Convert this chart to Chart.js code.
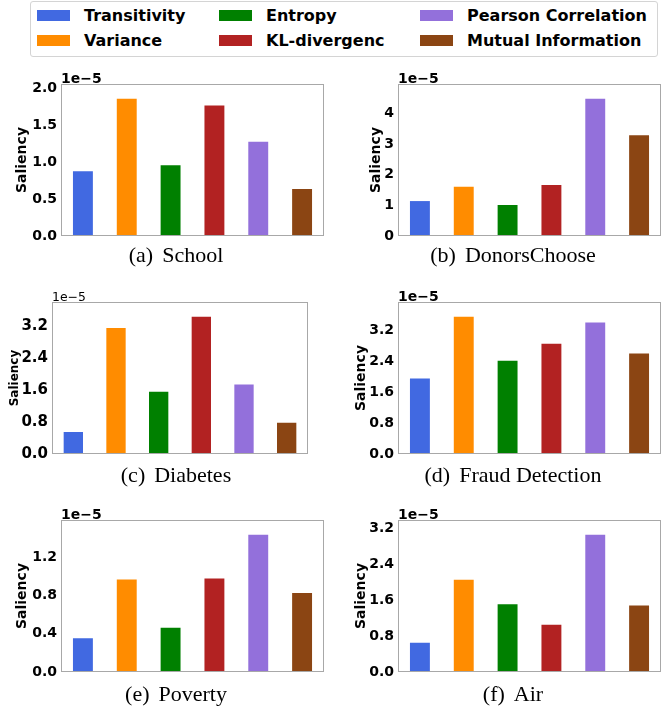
<!DOCTYPE html>
<html>
<head>
<meta charset="utf-8">
<script src="https://cdn.jsdelivr.net/npm/chart.js@4.4.1/dist/chart.umd.min.js"></script>
<style>
  body { margin: 0; background: #fff; }
  #page { position: relative; width: 671px; height: 708px; overflow: hidden; }
  canvas { position: absolute; }
  #legend {
    position: absolute; left: 30px; top: 1px; width: 626px; height: 54px;
    border: 1px solid #d4d4d4; border-radius: 3px;
  }
  .item { position: absolute; font: bold 16px "DejaVu Sans"; color: #000; white-space: nowrap; line-height: 20px; }
  .swatch { position: absolute; width: 33px; height: 11px; }
  .sub { position: absolute; width: 300px; text-align: center; font: 22px "Liberation Serif"; line-height: 22px; color: #000; white-space: nowrap; }
  .sub span { margin-right: 9px; }
</style>
</head>
<body>
<div id="page">
  <div id="legend"></div>
</div>
<script>
// values are in units of 1e-5
const methods = ["Transitivity", "Variance", "Entropy", "KL-divergenc", "Pearson Correlation", "Mutual Information"];
const colors = ["#4169E1", "#FF8C00", "#008000", "#B22222", "#9370DB", "#8B4513"];

const school = [0.89, 1.87, 0.97, 1.78, 1.29, 0.65];
const donorsChoose = [1.17, 1.64, 1.04, 1.69, 4.50, 3.31];
const diabetes = [0.58, 3.19, 1.59, 3.47, 1.77, 0.81];
const fraud = [1.98, 3.58, 2.44, 2.88, 3.43, 2.63];
const poverty = [0.365, 0.98, 0.473, 0.99, 1.447, 0.838];
const air = [0.675, 2.085, 1.537, 1.08, 3.087, 1.51];

const subtitles = ["(a)|School", "(b)|DonorsChoose", "(c)|Diabetes", "(d)|Fraud Detection", "(e)|Poverty", "(f)|Air"];
const tickSteps = [0.5, 1, 0.8, 0.8, 0.4, 0.8];
const tickDecimals = [1, 0, 1, 1, 1, 1];

const page = document.getElementById("page");

// legend, 3 columns x 2 rows
const legend = document.getElementById("legend");
const colX = [6, 188, 389];
const rowY = [8, 33];
methods.forEach((m, i) => {
    const col = Math.floor(i / 2), row = i % 2;
    const sw = document.createElement("div");
    sw.className = "swatch";
    sw.style.left = colX[col] + "px";
    sw.style.top = rowY[row] + "px";
    sw.style.background = colors[i];
    legend.appendChild(sw);
    const t = document.createElement("div");
    t.className = "item";
    t.textContent = m;
    t.style.left = (colX[col] + 47) + "px";
    t.style.top = (rowY[row] - 4) + "px";
    legend.appendChild(t);
});

// draws the box around the plot area and the 1e-5 offset text
const framePlugin = {
    id: "frame",
    afterDraw(chart, args, opts) {
        const {ctx, chartArea} = chart;
        ctx.save();
        ctx.strokeStyle = "#a8a8a8";
        ctx.lineWidth = 1;
        ctx.strokeRect(chartArea.left + 0.5, chartArea.top + 0.5,
            chartArea.right - chartArea.left - 1, chartArea.bottom - chartArea.top - 1);
        ctx.fillStyle = "#000";
        ctx.font = opts.font;
        ctx.textBaseline = "alphabetic";
        ctx.fillText("1e\u22125", chartArea.left, chartArea.top - 1);
        ctx.restore();
    }
};

const panels = [
    {data: school, x: 0, y: 60, w: 335, pad: {top: 24, bottom: 14, right: 11}, axisW: 61, tPad: 13.6, tSize: 14, off: "bold 14px 'DejaVu Sans'"},
    {data: donorsChoose, x: 335, y: 60, w: 336, pad: {top: 24, bottom: 14, right: 10}, axisW: 63, tPad: 33.3, tSize: 14, off: "bold 14px 'DejaVu Sans'"},
    {data: diabetes, x: 0, y: 280, w: 335, pad: {top: 22, bottom: 16, right: 27}, axisW: 52, tPad: 7.8, tSize: 12, off: "12.4px 'DejaVu Sans'"},
    {data: fraud, x: 335, y: 280, w: 336, pad: {top: 22, bottom: 16, right: 10}, axisW: 63, tPad: 17.6, tSize: 14, off: "bold 14px 'DejaVu Sans'"},
    {data: poverty, x: 0, y: 500, w: 335, pad: {top: 20, bottom: 18, right: 11}, axisW: 61, tPad: 13.6, tSize: 14, off: "bold 14px 'DejaVu Sans'"},
    {data: air, x: 335, y: 500, w: 336, pad: {top: 20, bottom: 18, right: 10}, axisW: 63, tPad: 17.6, tSize: 14, off: "bold 14px 'DejaVu Sans'"},
];
const subCenters = [176, 513];
const subTops = [244, 464, 683];

panels.forEach((p, i) => {
    const cv = document.createElement("canvas");
    cv.width = p.w;
    cv.height = 190;
    cv.style.left = p.x + "px";
    cv.style.top = p.y + "px";
    page.appendChild(cv);

    const step = tickSteps[i], dec = tickDecimals[i];
    new Chart(cv, {
        type: "bar",
        data: {
            labels: methods,
            datasets: [{
                data: p.data,
                backgroundColor: colors,
                borderColor: "rgba(255,255,255,0.45)",
                borderWidth: 1,
                borderSkipped: "start",
                barPercentage: 0.5,
                categoryPercentage: 1.0,
            }],
        },
        options: {
            responsive: false,
            animation: false,
            devicePixelRatio: 1,
            layout: {padding: {left: 0, top: p.pad.top, bottom: p.pad.bottom, right: p.pad.right}},
            plugins: {
                legend: {display: false},
                tooltip: {enabled: false},
                frame: {font: p.off},
            },
            scales: {
                x: {display: false},
                y: {
                    min: 0,
                    max: Math.max(...p.data) * 1.1,
                    grid: {display: false, drawTicks: false},
                    border: {display: false},
                    ticks: {
                        stepSize: step,
                        includeBounds: false,
                        padding: 4,
                        color: "#000",
                        font: {family: "DejaVu Sans", size: i == 2 ? 15 : 14, weight: "bold"},
                        callback: (v) => v.toFixed(dec),
                    },
                    title: {
                        display: true,
                        text: "Saliency",
                        color: "#000",
                        font: {family: "DejaVu Sans", size: p.tSize, weight: "bold"},
                        padding: {top: p.tPad, bottom: 0},
                    },
                    afterFit: (scale) => { scale.width = p.axisW; },
                },
            },
        },
        plugins: [framePlugin],
    });

    const parts = subtitles[i].split("|");
    const sub = document.createElement("div");
    sub.className = "sub";
    sub.style.left = (subCenters[i % 2] - 150) + "px";
    sub.style.top = subTops[Math.floor(i / 2)] + "px";
    const lab = document.createElement("span");
    lab.textContent = parts[0];
    sub.appendChild(lab);
    sub.appendChild(document.createTextNode(parts[1]));
    page.appendChild(sub);
});
</script>
</body>
</html>
